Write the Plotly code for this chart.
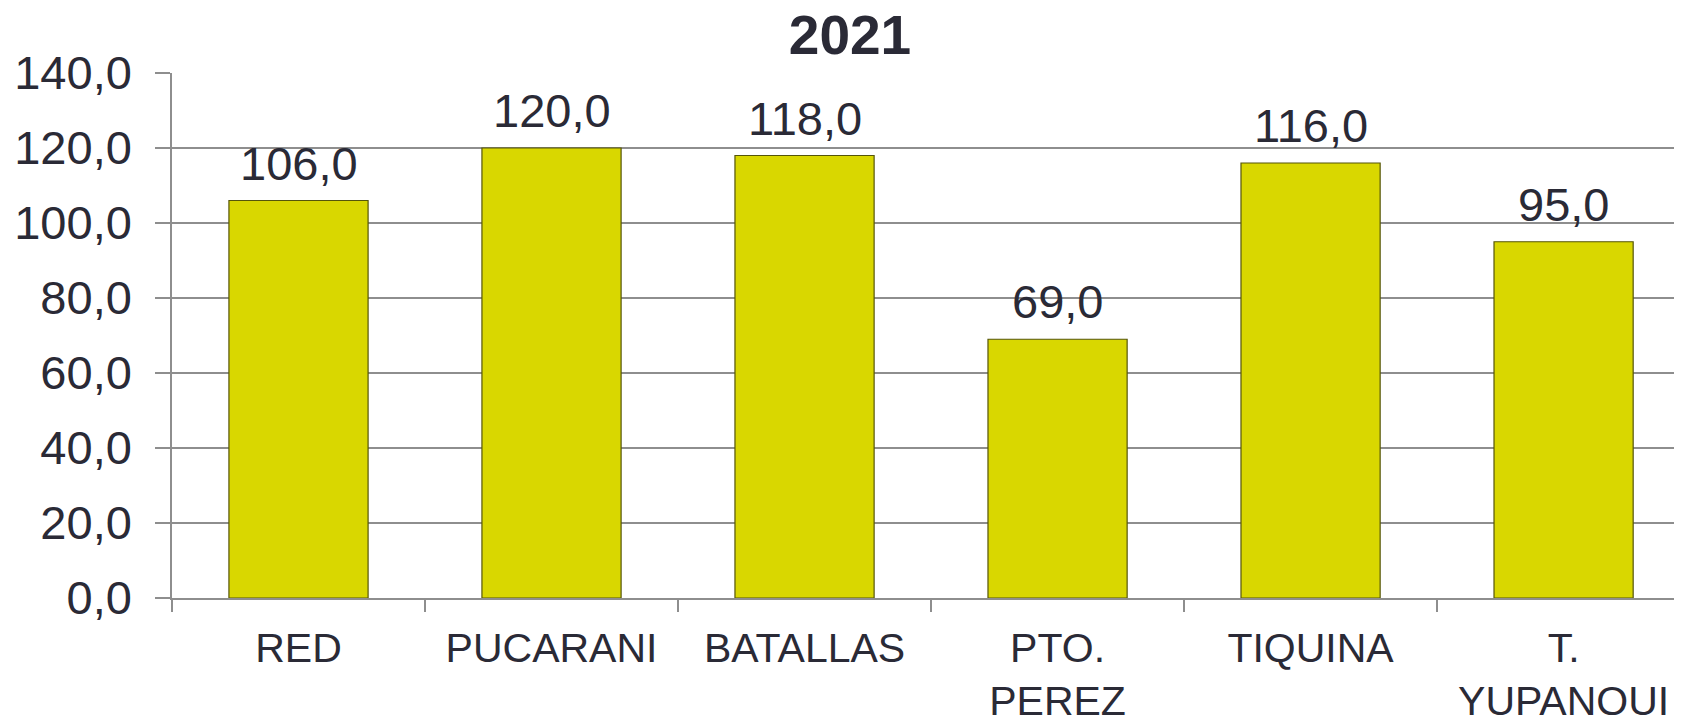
import plotly.graph_objects as go

# data
categories = ["RED", "PUCARANI", "BATALLAS", "PTO.<br>PEREZ", "TIQUINA", "T.<br>YUPANQUI"]
values = [106.0, 120.0, 118.0, 69.0, 116.0, 95.0]
y_ticks = [0, 20, 40, 60, 80, 100, 120, 140]

text_color = "#2a2a36"
grid_color = "#8e8e8e"

fig = go.Figure()
fig.add_trace(go.Bar(
    x=categories,
    y=values,
    marker=dict(color="#d9d700", line=dict(color="#55550a", width=1.2)),
))

# value labels above bars
for c, v in zip(categories, values):
    fig.add_annotation(x=c, y=v, text=f"{v:.1f}".replace(".", ","),
                       showarrow=False, yanchor="bottom", yshift=9,
                       font=dict(size=47, color=text_color))

# page body has an 8px margin, so the figure is a bit smaller than the window
fig.update_layout(
    width=1674, height=707,
    margin=dict(l=164, r=0, t=65, b=117),
    paper_bgcolor="white", plot_bgcolor="white",
    font=dict(family="Liberation Sans, Arial, sans-serif", color=text_color),
    separators=",.",
    bargap=0.45,
    showlegend=False,
    title=dict(text="<b>2021</b>", x=0.503, xref="container", xanchor="center",
               y=0.962, yref="container", yanchor="middle",
               font=dict(size=55, color=text_color)),
)

# last category runs slightly past the right edge, as in the original
fig.update_xaxes(
    automargin=False, range=[-0.5, len(categories) - 0.532],
    showgrid=False, showline=True, linecolor=grid_color, linewidth=1.5,
    ticks="outside", tickson="boundaries", ticklen=12, tickcolor=grid_color, tickwidth=1.5,
    tickfont=dict(size=41, color=text_color), ticklabelstandoff=13,
)
fig.update_yaxes(
    automargin=False,
    range=[0, 140], tickvals=y_ticks, tickformat=".1f",
    showgrid=True, gridcolor=grid_color, gridwidth=1.5,
    showline=True, linecolor=grid_color, linewidth=1.5,
    ticks="outside", ticklen=15, tickcolor=grid_color, tickwidth=1.5,
    tickfont=dict(size=47, color=text_color), ticklabelstandoff=14,
    zeroline=False,
)

fig.write_html("out.html")
